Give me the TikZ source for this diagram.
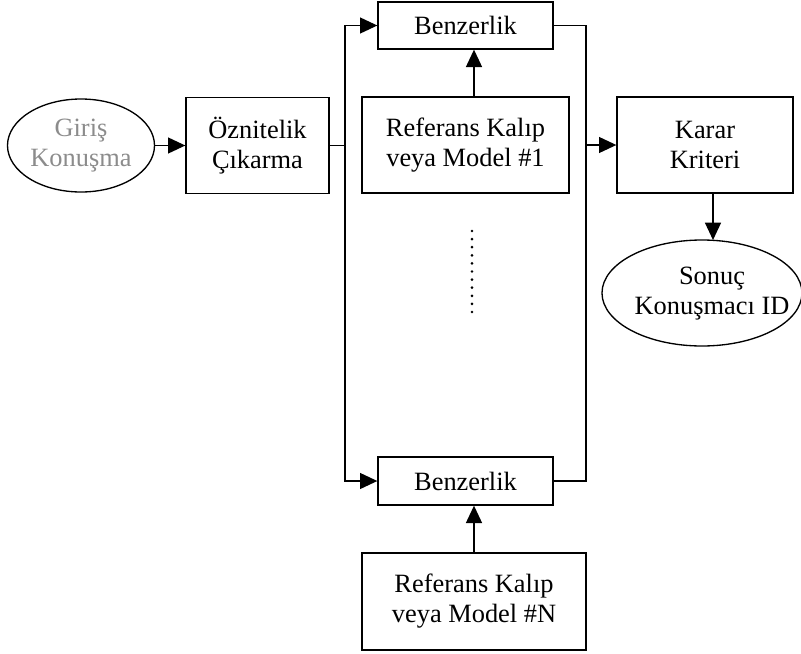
\documentclass[tikz,border=0pt]{standalone}
\usepackage{fontspec}
\setmainfont{Liberation Serif}
\usetikzlibrary{arrows.meta,shapes.geometric}
\def\pxu{0.75pt}
\begin{document}
\begin{tikzpicture}[x=0.75pt,y=-0.75pt,
  every node/.style={font=\fontsize{19.8}{22.5}\selectfont, align=center, inner sep=0pt},
  blk/.style={draw, line width=1pt, rectangle},
  oval/.style={draw, line width=1pt, ellipse},
  arr/.style={line width=1pt, -{Triangle[length=13pt,width=12pt]}},
  wire/.style={line width=1pt}]
\useasboundingbox (0,0) rectangle (801,654);

% input and feature extraction
\node[oval, minimum width=147*\pxu, minimum height=93*\pxu, text=black!45] (giris) at (81,145.5) {Giriş\\Konuşma};
\node[blk, minimum width=143*\pxu, minimum height=96*\pxu] (ozn) at (257.5,145.5) {Öznitelik\\Çıkarma};

% similarity blocks and reference models
\node[blk, minimum width=175*\pxu, minimum height=47*\pxu] (b1) at (465.5,25.5) {Benzerlik};
\node[blk, minimum width=207*\pxu, minimum height=96*\pxu] (ref1) at (465.5,145) {Referans Kalıp\\veya Model \#1};
\node[blk, minimum width=175*\pxu, minimum height=48*\pxu] (b2) at (465.5,481) {Benzerlik};
\node[blk, line width=1.6pt, minimum width=224*\pxu, minimum height=97*\pxu] (refN) at (474,601.5) {Referans Kalıp\\veya Model \#N};

% decision and result
\node[blk, minimum width=176*\pxu, minimum height=96*\pxu] (karar) at (705,145) {Karar\\Kriteri};
\node[oval, minimum width=200*\pxu, minimum height=106*\pxu] (sonuc) at (702,293) {};
\node (sonuctxt) at (712,294) {Sonuç\\Konuşmacı ID};

% bus coordinates
\coordinate (lt) at (345,25.5);
\coordinate (lb) at (345,481);
\coordinate (rt) at (586,25.5);
\coordinate (rb) at (586,481);

% connectors
\draw[arr] (giris.east) -- (ozn.west);
\draw[wire] (ozn.east) -- (ozn.east -| lt);
\draw[arr] (ozn.east -| lt) -- (lt) -- (b1.west);
\draw[arr] (ozn.east -| lt) -- (lb) -- (b2.west);
\draw[wire] (b1.east) -- (rt) -- (rb) -- (b2.east);
\draw[arr] (ref1.north -| refN.north) -- (b1.south -| refN.north);
\draw[arr] (refN.north) -- (b2.south -| refN.north);
\draw[arr] (karar.west -| rt) -- (karar.west);
\draw[arr] (karar.south -| 713,0) -- (713,240);

% ellipsis between the model rows
\draw[line width=2.2pt, line cap=round, dash pattern=on 0pt off 6.075pt] (472,231) -- (472,312.5);
\end{tikzpicture}
\end{document}
